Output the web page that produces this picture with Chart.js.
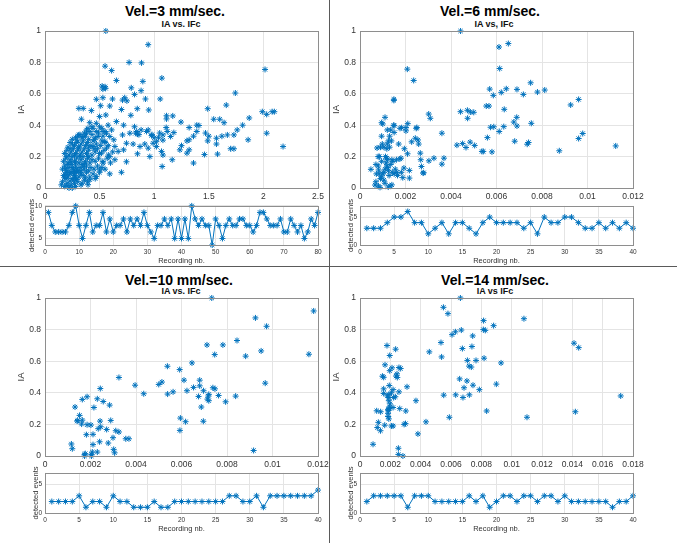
<!DOCTYPE html>
<html>
<head>
<meta charset="utf-8">
<script src="https://cdn.jsdelivr.net/npm/chart.js@4.4.1/dist/chart.umd.min.js"></script>
<style>
    body { margin: 0; background: #fff; }
    #page { position: relative; width: 677px; height: 543px; overflow: hidden; background: #fff; }
    canvas { position: absolute; }
    .title { position: absolute; transform: translate(-50%, -50%); white-space: nowrap;
             font: bold 14px "Liberation Sans", Arial, sans-serif; color: #000; }
    .sub { position: absolute; transform: translate(-50%, -50%); white-space: nowrap;
           font: bold 9px "Liberation Sans", Arial, sans-serif; color: #111; }
    .rule { position: absolute; background: #5a5a5a; }
</style>
</head>
<body>
<div id="page">
    <div class="rule" style="left:329px; top:0; width:1px; height:543px"></div>
    <div class="rule" style="left:0; top:266px; width:677px; height:1px"></div>

    <div class="title" style="left:175px; top:11px">Vel.=3 mm/sec.</div>
    <div class="sub" style="left:181px; top:24px">IA vs. IFc</div>
    <div class="title" style="left:490px; top:11px">Vel.=6 mm/sec.</div>
    <div class="sub" style="left:494px; top:24px">IA vs, IFc</div>
    <div class="title" style="left:179px; top:280px">Vel.=10 mm/sec.</div>
    <div class="sub" style="left:181px; top:291px">IA vs. IFc</div>
    <div class="title" style="left:495px; top:280px">Vel.=14 mm/sec.</div>
    <div class="sub" style="left:495px; top:291px">IA vs IFc</div>
</div>

<script>
// ---- data ----

// IA vs IFc, velocity 3 mm/sec  ([IFc, IA])
const vel3Points = [
    [0.557, 1.0], [0.945, 0.913], [0.55, 0.776], [0.61, 0.748], [0.77, 0.80], [0.884, 0.797],
    [1.07, 0.70], [0.896, 0.679], [0.654, 0.685], [0.523, 0.649], [0.55, 0.645], [0.53, 0.63],
    [0.555, 0.635], [0.79, 0.638], [0.88, 0.62], [0.82, 0.596], [0.73, 0.575], [0.71, 0.56],
    [0.75, 0.555], [0.618, 0.567], [0.47, 0.565], [0.53, 0.575], [0.92, 0.567], [1.055, 0.567],
    [1.743, 0.605], [2.015, 0.755], [1.66, 0.528], [1.49, 0.505], [0.31, 0.507], [0.35, 0.507],
    [0.845, 0.505], [0.95, 0.497], [0.70, 0.50], [0.593, 0.522], [0.51, 0.524], [0.333, 0.438],
    [0.425, 0.493], [0.786, 0.463], [1.113, 0.46], [1.113, 0.44], [1.17, 0.459], [1.245, 0.42],
    [1.32, 0.385], [1.39, 0.40], [1.41, 0.398], [1.545, 0.438], [1.60, 0.438], [1.64, 0.416],
    [1.87, 0.446], [1.99, 0.486], [2.03, 0.469], [2.08, 0.486], [2.1, 0.486], [2.03, 0.349],
    [2.18, 0.264], [1.86, 0.307], [1.81, 0.40], [1.76, 0.37], [1.73, 0.338], [1.67, 0.338],
    [1.62, 0.33], [1.57, 0.317], [1.70, 0.25], [1.73, 0.25], [1.57, 0.28], [1.49, 0.30],
    [1.5, 0.33], [1.47, 0.35], [1.46, 0.213], [1.58, 0.216], [1.36, 0.159], [1.165, 0.18],
    [1.073, 0.137], [1.39, 0.36], [1.36, 0.33], [1.32, 0.307], [1.30, 0.30], [1.32, 0.243],
    [1.30, 0.222], [1.25, 0.27], [1.235, 0.243], [1.18, 0.353], [1.15, 0.328], [1.11, 0.385],
    [1.12, 0.36], [1.08, 0.338], [1.05, 0.35], [1.04, 0.32], [1.08, 0.305], [1.02, 0.295],
    [1.0, 0.32], [0.98, 0.34], [0.93, 0.36], [0.88, 0.37], [0.84, 0.36], [0.83, 0.35],
    [0.86, 0.34], [1.067, 0.233], [1.08, 0.21], [0.96, 0.2], [0.847, 0.218], [0.746, 0.167],
    [0.70, 0.10], [0.593, 0.09],
    [0.654, 0.423], [0.72, 0.40], [0.777, 0.349], [0.71, 0.338], [0.746, 0.285], [0.64, 0.264],
    [0.67, 0.233], [0.72, 0.243], [0.807, 0.28], [0.87, 0.264], [0.914, 0.28], [0.945, 0.254],
    [0.99, 0.285], [1.02, 0.264], [0.847, 0.343], [0.945, 0.37], [0.976, 0.334], [0.82, 0.39],
    [0.578, 0.40], [0.61, 0.37], [0.593, 0.328], [0.63, 0.307], [0.563, 0.349], [0.547, 0.296],
    [0.563, 0.254], [0.517, 0.222], [0.593, 0.2], [0.64, 0.18], [0.532, 0.159], [0.50, 0.116],
    [0.47, 0.074], [0.41, 0.053], [0.394, 0.021], [0.557, 0.465], [0.50, 0.455], [0.47, 0.412],
    [0.44, 0.38], [0.41, 0.416], [0.394, 0.38], [0.50, 0.39], [0.532, 0.36], [0.486, 0.328],
    [0.456, 0.307], [0.38, 0.349], [0.349, 0.328], [0.309, 0.338], [0.44, 0.264],
    // dense cluster near the origin
    [0.16, 0.04], [0.18, 0.01], [0.2, 0.03], [0.22, 0.0], [0.24, 0.02], [0.26, 0.05],
    [0.28, 0.01], [0.3, 0.04], [0.33, 0.02], [0.36, 0.05], [0.19, 0.06], [0.23, 0.045],
    [0.27, 0.03], [0.21, 0.015], [0.25, 0.0], [0.15, 0.02], [0.34, 0.03], [0.39, 0.04],
    [0.29, 0.055], [0.17, 0.08], [0.19, 0.1], [0.21, 0.07], [0.23, 0.09], [0.25, 0.06],
    [0.27, 0.08], [0.29, 0.1], [0.31, 0.07], [0.33, 0.09], [0.35, 0.08], [0.38, 0.1],
    [0.41, 0.07], [0.44, 0.09], [0.2, 0.085], [0.24, 0.1], [0.28, 0.065], [0.32, 0.1],
    [0.37, 0.065], [0.18, 0.065], [0.26, 0.095], [0.22, 0.1], [0.5, 0.1], [0.46, 0.06],
    [0.16, 0.12], [0.18, 0.14], [0.2, 0.11], [0.22, 0.13], [0.24, 0.15], [0.26, 0.12],
    [0.28, 0.14], [0.3, 0.11], [0.32, 0.13], [0.34, 0.15], [0.36, 0.12], [0.38, 0.14],
    [0.4, 0.11], [0.42, 0.13], [0.45, 0.12], [0.48, 0.14], [0.21, 0.15], [0.25, 0.13],
    [0.29, 0.12], [0.33, 0.11], [0.19, 0.125], [0.27, 0.105], [0.35, 0.135], [0.52, 0.13],
    [0.55, 0.12], [0.17, 0.17], [0.19, 0.19], [0.21, 0.16], [0.23, 0.18], [0.25, 0.2],
    [0.27, 0.17], [0.29, 0.19], [0.31, 0.16], [0.33, 0.18], [0.35, 0.2], [0.37, 0.17],
    [0.39, 0.19], [0.41, 0.16], [0.43, 0.18], [0.46, 0.17], [0.49, 0.19], [0.53, 0.17],
    [0.57, 0.19], [0.2, 0.2], [0.24, 0.165], [0.28, 0.16], [0.32, 0.2], [0.36, 0.155],
    [0.4, 0.2], [0.6, 0.16], [0.18, 0.22], [0.2, 0.24], [0.22, 0.21], [0.24, 0.23],
    [0.26, 0.25], [0.28, 0.22], [0.3, 0.24], [0.32, 0.21], [0.34, 0.23], [0.36, 0.25],
    [0.38, 0.22], [0.4, 0.24], [0.43, 0.21], [0.46, 0.23], [0.5, 0.22], [0.54, 0.24],
    [0.58, 0.21], [0.62, 0.23], [0.27, 0.21], [0.31, 0.255], [0.45, 0.25], [0.23, 0.25],
    [0.21, 0.26], [0.25, 0.28], [0.27, 0.27], [0.29, 0.29], [0.31, 0.26], [0.33, 0.28],
    [0.35, 0.3], [0.37, 0.27], [0.39, 0.29], [0.42, 0.27], [0.44, 0.3], [0.47, 0.28],
    [0.51, 0.27], [0.55, 0.29], [0.23, 0.29], [0.3, 0.3], [0.4, 0.26], [0.48, 0.25],
    [0.52, 0.3], [0.58, 0.27], [0.3, 0.33], [0.32, 0.34], [0.34, 0.32], [0.37, 0.33],
    [0.4, 0.31], [0.43, 0.34], [0.46, 0.32], [0.49, 0.35], [0.28, 0.32], [0.36, 0.35],
    [0.53, 0.33], [0.25, 0.31], [0.38, 0.37], [0.43, 0.39], [0.47, 0.36], [0.52, 0.38],
    [0.55, 0.36], [0.41, 0.36]
];

// IA vs IFc, velocity 6 mm/sec
const vel6Points = [
    [0.00442, 1.0], [0.00611, 0.898], [0.00652, 0.92], [0.00614, 0.761], [0.00208, 0.757],
    [0.00236, 0.685], [0.0075, 0.67], [0.0057, 0.63], [0.00621, 0.609], [0.00643, 0.632],
    [0.0069, 0.628], [0.0078, 0.611], [0.00812, 0.624], [0.00718, 0.596], [0.00586, 0.59],
    [0.00149, 0.565], [0.00149, 0.558], [0.00961, 0.564], [0.00926, 0.529], [0.00555, 0.522],
    [0.00567, 0.522], [0.00634, 0.501], [0.00442, 0.486], [0.00472, 0.495], [0.00485, 0.484],
    [0.005, 0.482], [0.00302, 0.471], [0.00309, 0.444], [0.00473, 0.444], [0.00689, 0.45],
    [0.00676, 0.42], [0.0069, 0.395], [0.00753, 0.412], [0.00574, 0.387], [0.00588, 0.39],
    [0.00632, 0.391], [0.00612, 0.36], [0.0036, 0.349], [0.00979, 0.347], [0.00961, 0.315],
    [0.01124, 0.268], [0.00876, 0.237], [0.0056, 0.321], [0.0068, 0.298], [0.00741, 0.29],
    [0.00735, 0.279], [0.00484, 0.292], [0.00451, 0.283], [0.00426, 0.273], [0.00466, 0.258],
    [0.00504, 0.271], [0.00536, 0.233], [0.00542, 0.233], [0.0058, 0.23], [0.00325, 0.19],
    [0.00369, 0.19], [0.0036, 0.152], [0.00303, 0.173], [0.00267, 0.18], [0.00265, 0.222],
    [0.0027, 0.137], [0.00277, 0.095], [0.0028, 0.097], [0.00247, 0.38], [0.0025, 0.385],
    [0.00243, 0.317], [0.00255, 0.306], [0.00258, 0.28], [0.00227, 0.294], [0.00209, 0.218],
    [0.00217, 0.112], [0.00217, 0.063], [0.00182, 0.1], [0.00193, 0.127], [0.0021, 0.41],
    [0.00202, 0.385], [0.00202, 0.364],
    [0.00048, 0.119], [0.00066, 0.019], [0.0007, 0.04], [0.00081, 0.013], [0.00088, 0.004],
    [0.00124, 0.006], [0.00132, 0.013], [0.0011, 0.45], [0.00095, 0.416], [0.001, 0.408],
    [0.0012, 0.37], [0.0015, 0.397], [0.0015, 0.354], [0.00183, 0.384], [0.00176, 0.38],
    [0.0009, 0.26], [0.00075, 0.255], [0.0008, 0.2], [0.00085, 0.2], [0.0007, 0.15],
    [0.0008, 0.14], [0.00095, 0.17], [0.001, 0.09], [0.00085, 0.09], [0.0009, 0.06],
    [0.00095, 0.07], [0.00105, 0.1], [0.0011, 0.12], [0.00112, 0.2], [0.00118, 0.19],
    [0.0012, 0.18], [0.00115, 0.16], [0.00118, 0.14], [0.00122, 0.13], [0.00125, 0.11],
    [0.0011, 0.03], [0.00105, 0.05], [0.00128, 0.08], [0.00135, 0.15], [0.0014, 0.18],
    [0.00145, 0.17], [0.00142, 0.1], [0.0015, 0.09], [0.00155, 0.12], [0.00162, 0.1],
    [0.0016, 0.18], [0.0017, 0.28], [0.0018, 0.19], [0.00175, 0.185], [0.00188, 0.066],
    [0.00195, 0.25], [0.0013, 0.26], [0.00125, 0.3], [0.0012, 0.28], [0.0013, 0.33],
    [0.00098, 0.28], [0.00105, 0.26], [0.00138, 0.3], [0.00165, 0.08], [0.0014, 0.02],
    [0.00072, 0.09], [0.00082, 0.115], [0.00118, 0.25], [0.00095, 0.33], [0.00135, 0.37],
    [0.00148, 0.4]
];

// IA vs IFc, velocity 10 mm/sec
const vel10Points = [
    [0.00733, 1.0], [0.01181, 0.918], [0.00925, 0.874], [0.00974, 0.821], [0.00844, 0.731],
    [0.00712, 0.703], [0.00782, 0.703], [0.00746, 0.642], [0.00882, 0.632], [0.0095, 0.665],
    [0.0116, 0.644], [0.00646, 0.589], [0.00538, 0.568], [0.00592, 0.547], [0.00325, 0.497],
    [0.00611, 0.48], [0.0068, 0.48], [0.00514, 0.468], [0.005, 0.453], [0.00396, 0.448],
    [0.00968, 0.461], [0.0068, 0.444], [0.00738, 0.432], [0.00747, 0.425], [0.00653, 0.434],
    [0.00624, 0.413], [0.00697, 0.413], [0.00563, 0.406], [0.00539, 0.392], [0.00434, 0.394],
    [0.00675, 0.377], [0.0072, 0.39], [0.00718, 0.38], [0.00714, 0.36], [0.0072, 0.35],
    [0.00763, 0.383], [0.00838, 0.379], [0.00794, 0.343], [0.00687, 0.31], [0.00595, 0.24],
    [0.00618, 0.217], [0.00696, 0.22], [0.00593, 0.162],
    [0.00243, 0.427], [0.0023, 0.362], [0.00185, 0.375], [0.00164, 0.358], [0.00256, 0.345],
    [0.00284, 0.322], [0.00132, 0.31], [0.00215, 0.307],
    [0.00152, 0.257], [0.00144, 0.225], [0.00164, 0.227], [0.00141, 0.221], [0.00161, 0.202],
    [0.00185, 0.198], [0.00202, 0.196], [0.00242, 0.221], [0.00289, 0.225], [0.00245, 0.185],
    [0.00234, 0.173], [0.00182, 0.135], [0.00211, 0.137], [0.00271, 0.168], [0.00311, 0.16],
    [0.00325, 0.152], [0.00299, 0.116], [0.00355, 0.109], [0.00369, 0.109], [0.00116, 0.076],
    [0.0012, 0.046], [0.00211, 0.072], [0.0024, 0.09], [0.00278, 0.082], [0.00302, 0.042],
    [0.00174, 0.0], [0.00174, 0.01], [0.00177, 0.015], [0.00204, 0.01], [0.00204, 0.0],
    [0.00208, 0.025], [0.0023, 0.025], [0.00306, 0.02], [0.00917, 0.035]
];

// IA vs IFc, velocity 14 mm/sec
const vel14Points = [
    [0.00662, 1.0], [0.0055, 0.941], [0.0058, 0.901], [0.01081, 0.869], [0.00815, 0.857],
    [0.00881, 0.825], [0.00813, 0.8], [0.00826, 0.795], [0.00668, 0.797], [0.00629, 0.786],
    [0.00607, 0.768], [0.00743, 0.76], [0.00534, 0.718], [0.01411, 0.714], [0.01442, 0.686],
    [0.00738, 0.693], [0.00675, 0.68], [0.00178, 0.699], [0.00235, 0.676], [0.00457, 0.659],
    [0.00196, 0.636], [0.00538, 0.627], [0.00818, 0.619], [0.00708, 0.605], [0.00765, 0.605],
    [0.0093, 0.589], [0.00719, 0.569], [0.00734, 0.563], [0.00165, 0.577], [0.00211, 0.558],
    [0.00257, 0.56], [0.00268, 0.554], [0.00196, 0.54], [0.00244, 0.52], [0.00237, 0.506],
    [0.00246, 0.497], [0.00657, 0.488], [0.00705, 0.475], [0.00899, 0.455], [0.00745, 0.448],
    [0.00686, 0.432], [0.0031, 0.438], [0.00787, 0.42], [0.00156, 0.425], [0.00193, 0.446],
    [0.00218, 0.42], [0.00207, 0.4], [0.00257, 0.406], [0.00156, 0.396], [0.0018, 0.38],
    [0.0019, 0.37], [0.00222, 0.37], [0.00631, 0.387], [0.00552, 0.385], [0.00721, 0.387],
    [0.00679, 0.37], [0.01719, 0.38], [0.00369, 0.35], [0.0011, 0.286], [0.00136, 0.28],
    [0.00192, 0.3], [0.00187, 0.288], [0.00218, 0.307], [0.00262, 0.3], [0.00302, 0.285],
    [0.00835, 0.285], [0.0142, 0.28], [0.00589, 0.245], [0.01101, 0.245], [0.00435, 0.216],
    [0.00121, 0.213], [0.00163, 0.195], [0.00135, 0.16], [0.00114, 0.18], [0.00218, 0.19],
    [0.00291, 0.2], [0.003, 0.205], [0.00382, 0.14], [0.00086, 0.074], [0.00253, 0.049],
    [0.00253, 0.01], [0.00283, 0.0], [0.00148, 0.505], [0.00156, 0.498], [0.0019, 0.39],
    [0.0019, 0.35], [0.00198, 0.33], [0.00195, 0.31], [0.00185, 0.295], [0.00185, 0.27],
    [0.00185, 0.25], [0.0019, 0.235], [0.00207, 0.19], [0.00233, 0.375]
];

// detected events per recording
const vel3Events = [9, 7, 6, 6, 6, 6, 7, 9, 10, 7, 5, 7, 9, 6, 7, 7, 9, 6, 8, 6,
    7, 7, 8, 6, 8, 7, 8, 7, 9, 7, 6, 5, 7, 7, 8, 7, 8, 5, 8, 5,
    8, 5, 10, 8, 7, 8, 7, 7, 4, 8, 7, 5, 7, 8, 7, 7, 8, 8, 7, 7,
    6, 7, 9, 9, 8, 7, 7, 7, 8, 6, 6, 8, 7, 6, 7, 5, 6, 8, 7, 9];
const vel6Events = [3, 3, 3, 4, 5, 5, 6, 4, 4, 2, 3, 4, 2, 4, 4, 3, 2, 4, 5, 4,
    4, 4, 4, 3, 4, 2, 5, 4, 4, 5, 5, 4, 3, 3, 4, 3, 4, 3, 4, 3];
const vel10Events = [2, 2, 2, 2, 3, 1, 2, 2, 1, 3, 2, 2, 1, 1, 1, 2, 1, 1, 2, 2,
    2, 2, 2, 2, 2, 2, 3, 3, 2, 2, 3, 1, 3, 3, 3, 3, 3, 3, 3, 4];
const vel14Events = [2, 3, 3, 3, 3, 3, 1, 3, 3, 3, 2, 2, 2, 2, 2, 3, 2, 3, 1, 2,
    3, 3, 2, 3, 3, 2, 3, 3, 2, 3, 2, 2, 2, 2, 2, 2, 1, 2, 2, 3];

// tick labels
const iaTicks = [0, 0.2, 0.4, 0.6, 0.8, 1];
const ifcTicks3 = [0, 0.5, 1, 1.5, 2, 2.5];
const ifcTicks12 = [0, 0.002, 0.004, 0.006, 0.008, 0.01, 0.012];
const ifcTicks18 = [0, 0.002, 0.004, 0.006, 0.008, 0.01, 0.012, 0.014, 0.016, 0.018];
const recTicks80 = [0, 10, 20, 30, 40, 50, 60, 70, 80];
const recTicks40 = [0, 5, 10, 15, 20, 25, 30, 35, 40];
const eventTicks3 = [5, 10];
const eventTicks = [0, 5];

// ---- drawing ----

const BLUE = '#0072BD';
const GRID = '#e4e4e4';
const TEXT = '#333';
const FONT = '"Liberation Sans", Arial, sans-serif';

// fixed tick positions taken from the arrays above
function fixedTicks(list) {
    return function (axis) {
        axis.ticks = list.map(v => ({value: v}));
    };
}

function fmt(v) {
    return String(parseFloat(Number(v).toFixed(4)));
}

// MATLAB-like full box around the axes
const boxPlugin = {
    id: 'box',
    afterDraw(chart) {
        const a = chart.chartArea, ctx = chart.ctx;
        ctx.save();
        ctx.strokeStyle = '#8e8e8e';
        ctx.lineWidth = 1;
        ctx.strokeRect(Math.round(a.left) + 0.5, Math.round(a.top) + 0.5,
            Math.round(a.right - a.left), Math.round(a.bottom - a.top));
        ctx.restore();
    }
};

function addCanvas(left, top, width, height) {
    const c = document.createElement('canvas');
    c.width = width;
    c.height = height;
    c.style.left = left + 'px';
    c.style.top = top + 'px';
    c.style.width = width + 'px';
    c.style.height = height + 'px';
    document.getElementById('page').appendChild(c);
    return c;
}

// area = pixel box of the plot area on the page
function drawScatter(area, points, xMax, xTicks) {
    const padT = 10, padR = 16, yW = 45, xH = 16;
    const el = addCanvas(area.l - yW, area.t - padT, area.r - area.l + yW + padR, area.b - area.t + padT + xH);

    return new Chart(el.getContext('2d'), {
        type: 'scatter',
        data: {
            datasets: [{
                data: points.map(p => ({x: p[0], y: p[1]})),
                pointStyle: 'star',
                pointRadius: 3,
                pointBorderWidth: 1,
                borderColor: BLUE,
                backgroundColor: BLUE,
                clip: false
            }]
        },
        options: {
            responsive: false,
            animation: false,
            events: [],
            layout: {padding: {left: 0, top: padT, right: padR, bottom: 0}},
            plugins: {legend: {display: false}, tooltip: {enabled: false}},
            scales: {
                x: {
                    type: 'linear', min: 0, max: xMax,
                    afterBuildTicks: fixedTicks(xTicks),
                    afterFit: s => { s.height = xH; },
                    grid: {color: GRID, drawTicks: false},
                    border: {display: false},
                    ticks: {padding: 3.5, autoSkip: false, maxRotation: 0, color: TEXT,
                        font: {family: FONT, size: 8.5}, callback: fmt}
                },
                y: {
                    type: 'linear', min: 0, max: 1,
                    afterBuildTicks: fixedTicks(iaTicks),
                    afterFit: s => { s.width = yW; },
                    grid: {color: GRID, drawTicks: false},
                    border: {display: false},
                    ticks: {padding: 4, autoSkip: false, color: TEXT,
                        font: {family: FONT, size: 8.5}, callback: fmt},
                    title: {display: true, text: 'IA', color: TEXT, padding: {top: 16, bottom: 0},
                        font: {family: FONT, size: 9.5}}
                }
            }
        },
        plugins: [boxPlugin]
    });
}

function drawEvents(area, counts, xMax, xTicks, yMin, yMax, yTicks, titlePad) {
    const padT = 6, padR = 16, yW = 45, xH = 22;
    const el = addCanvas(area.l - yW, area.t - padT, area.r - area.l + yW + padR, area.b - area.t + padT + xH);

    return new Chart(el.getContext('2d'), {
        type: 'line',
        data: {
            datasets: [{
                data: counts.map((v, i) => ({x: i + 1, y: v})),
                borderColor: BLUE,
                backgroundColor: BLUE,
                borderWidth: 1,
                tension: 0,
                pointStyle: 'star',
                pointRadius: 3,
                pointBorderWidth: 1,
                pointBorderColor: BLUE,
                clip: false
            }]
        },
        options: {
            responsive: false,
            animation: false,
            events: [],
            layout: {padding: {left: 0, top: padT, right: padR, bottom: 0}},
            plugins: {legend: {display: false}, tooltip: {enabled: false}},
            scales: {
                x: {
                    type: 'linear', min: 0, max: xMax,
                    afterBuildTicks: fixedTicks(xTicks),
                    afterFit: s => { s.height = xH; },
                    grid: {color: GRID, drawTicks: false},
                    border: {display: false},
                    ticks: {padding: 3, autoSkip: false, maxRotation: 0, color: TEXT,
                        font: {family: FONT, size: 6.5}},
                    title: {display: true, text: 'Recording nb.', color: TEXT, padding: {top: 0, bottom: 1.5},
                        font: {family: FONT, size: 7.5}}
                },
                y: {
                    type: 'linear', min: yMin, max: yMax,
                    afterBuildTicks: fixedTicks(yTicks),
                    afterFit: s => { s.width = yW; },
                    grid: {color: GRID, drawTicks: false},
                    border: {display: false},
                    ticks: {padding: 3, autoSkip: false, color: TEXT,
                        font: {family: FONT, size: 6.5}},
                    title: {display: true, text: 'detected events', color: TEXT, padding: {top: titlePad, bottom: 0},
                        font: {family: FONT, size: 7.5}}
                }
            }
        },
        plugins: [boxPlugin]
    });
}

// top left: 3 mm/sec
drawScatter({l: 45, t: 31, r: 318, b: 188}, vel3Points, 2.5, ifcTicks3);
drawEvents({l: 45, t: 205, r: 318, b: 245}, vel3Events, 80, recTicks80, 4, 10, eventTicks3, 27);

// top right: 6 mm/sec
drawScatter({l: 360, t: 31, r: 633, b: 188}, vel6Points, 0.012, ifcTicks12);
drawEvents({l: 360, t: 205, r: 633, b: 245}, vel6Events, 40, recTicks40, 0, 7, eventTicks, 31);

// bottom left: 10 mm/sec
drawScatter({l: 45, t: 298, r: 318, b: 456}, vel10Points, 0.012, ifcTicks12);
drawEvents({l: 45, t: 472, r: 318, b: 513}, vel10Events, 40, recTicks40, 0, 7, eventTicks, 31);

// bottom right: 14 mm/sec
drawScatter({l: 360, t: 298, r: 633, b: 456}, vel14Points, 0.018, ifcTicks18);
drawEvents({l: 360, t: 472, r: 633, b: 513}, vel14Events, 40, recTicks40, 0, 7, eventTicks, 31);
</script>
</body>
</html>
